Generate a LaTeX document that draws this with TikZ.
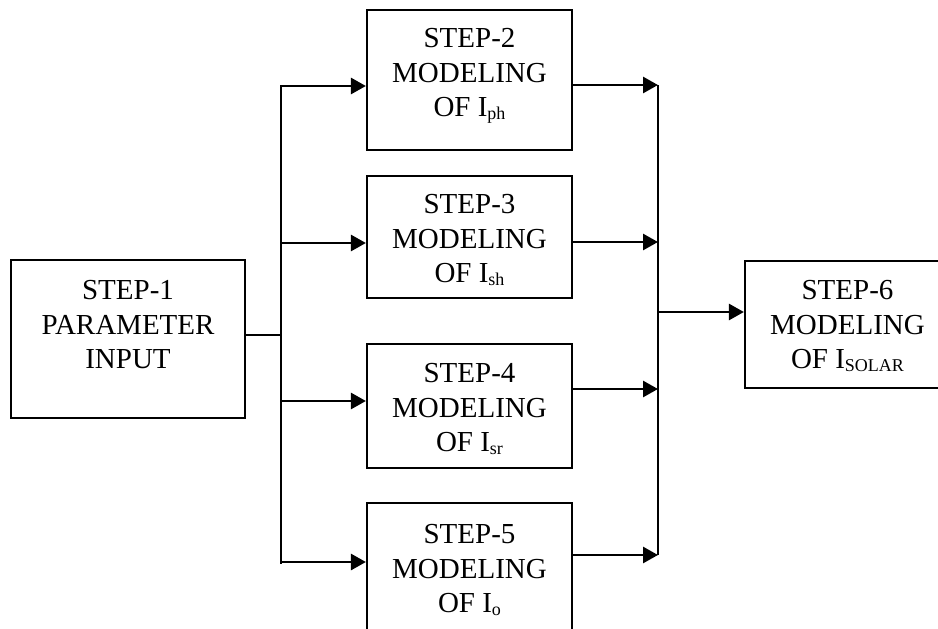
\documentclass[tikz,border=0pt]{standalone}
\usepackage{fontspec}
\setmainfont{Liberation Serif}
\usetikzlibrary{arrows.meta}
\newcommand{\subs}[1]{\raisebox{-3pt}{\fontsize{18}{18}\selectfont #1}}
\tikzset{
  stepbox/.style={draw=black, line width=2.2pt, rectangle, inner sep=0pt},
  steptxt/.style={align=center, inner sep=0pt, font=\fontsize{29}{34.5}\selectfont},
  conn/.style={line width=2.8pt, draw=black},
  arr/.style={conn, -{Triangle[length=15pt,width=16pt]}, shorten >=0pt}
}
\begin{document}
\begin{tikzpicture}[x=1pt,y=1pt]
\useasboundingbox (0,0) rectangle (938,-629);
\clip (0,0) rectangle (938,-629);
% boxes
\node[stepbox, minimum width=234pt, minimum height=158pt] (s1) at (128,-339) {};
\node[stepbox, minimum width=205pt, minimum height=140pt] (s2) at (469.5,-80) {};
\node[stepbox, minimum width=205pt, minimum height=122pt] (s3) at (469.5,-237) {};
\node[stepbox, minimum width=205pt, minimum height=124pt] (s4) at (469.5,-406) {};
\node[stepbox, minimum width=205pt, minimum height=140pt] (s5) at (469.5,-573) {};
\node[stepbox, minimum width=205pt, minimum height=127pt] (s6) at (847.5,-324.5) {};
% texts
\node[steptxt] (t1) at (128,-325) {STEP-1\\PARAMETER\\INPUT};
\node[steptxt] (t2) at (469.5,-76) {STEP-2\\MODELING\\OF I\subs{ph}};
\node[steptxt] (t3) at (469.5,-240) {STEP-3\\MODELING\\OF I\subs{sh}};
\node[steptxt] (t4) at (469.5,-409) {STEP-4\\MODELING\\OF I\subs{sr}};
\node[steptxt] (t5) at (469.5,-570) {STEP-5\\MODELING\\OF I\subs{o}};
\node[steptxt] (t6) at (847.5,-326) {STEP-6\\MODELING\\OF I\subs{SOLAR}};
% left junctions
\coordinate (j1) at (281,-335);
\coordinate (ltop) at (281,-85);
\coordinate (lbot) at (281,-564);
\coordinate (L2) at (281,-86);
\coordinate (L3) at (281,-243);
\coordinate (L4) at (281,-401);
\coordinate (L5) at (281,-562);
\draw[conn] (j1 -| s1.east) -- (j1);
\draw[conn] (ltop) -- (lbot);
\draw[arr] (L2) -- (L2 -| s2.west);
\draw[arr] (L3) -- (L3 -| s3.west);
\draw[arr] (L4) -- (L4 -| s4.west);
\draw[arr] (L5) -- (L5 -| s5.west);
% right junctions
\coordinate (R2) at (658,-85);
\coordinate (R3) at (658,-242);
\coordinate (R4) at (658,-389);
\coordinate (R5) at (658,-555);
\coordinate (R6) at (658,-312);
\draw[conn] (R2) -- (R5);
\draw[arr] (R2 -| s2.east) -- (R2);
\draw[arr] (R3 -| s3.east) -- (R3);
\draw[arr] (R4 -| s4.east) -- (R4);
\draw[arr] (R5 -| s5.east) -- (R5);
\draw[arr] (R6) -- (R6 -| s6.west);
\end{tikzpicture}
\end{document}
